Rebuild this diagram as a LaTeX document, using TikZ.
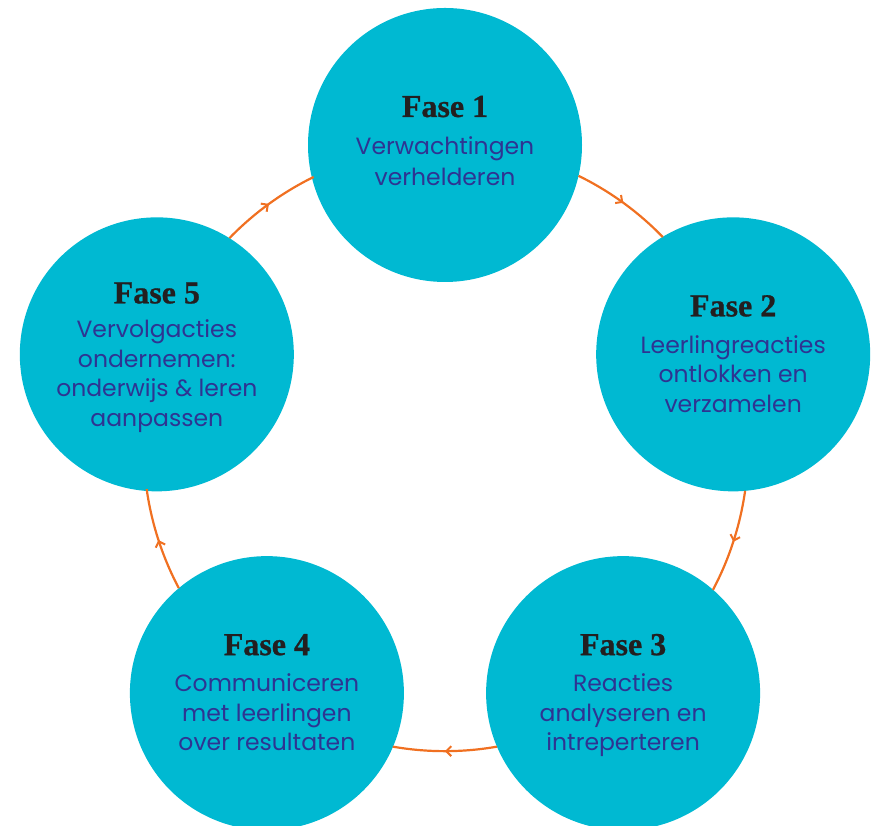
\documentclass[tikz,border=0pt]{standalone}
\usepackage{fontspec}
\setmainfont{Poppins}
\newfontfamily\titlefont[BoldFeatures={FakeBold=0.8}]{Liberation Serif}
\usetikzlibrary{arrows.meta,decorations.markings}
\definecolor{cyanfill}{RGB}{0,185,210}
\definecolor{bodyblue}{RGB}{46,52,146}
\definecolor{titleblack}{RGB}{35,31,32}
\definecolor{flowor}{RGB}{240,112,33}
\tikzset{
  phase/.style={circle,fill=cyanfill,draw=none,minimum size=274pt,inner sep=0pt,outer sep=0pt},
  ptitle/.style={anchor=base,font=\titlefont\bfseries\fontsize{32}{32}\selectfont,text=titleblack,inner sep=0pt},
  pbody/.style={anchor=base,align=center,font=\fontsize{23.5}{29.5}\selectfont,text=bodyblue,inner sep=0pt},
  flow/.style={draw=flowor,line width=2.2pt,postaction={decorate},
    decoration={markings,mark=at position 0.5 with {\arrow[flowor,line width=2pt]{Straight Barb[length=5pt,width=10pt]}}}}
}
\begin{document}
\begin{tikzpicture}[x=1pt,y=1pt]
\useasboundingbox (0,0) rectangle (876,826);
\coordinate (O) at (445,378);
\node[phase] (f1) at ([shift={(90:303)}]O) {};
\node[phase] (f2) at ([shift={(18:303)}]O) {};
\node[phase] (f3) at ([shift={(-54:303)}]O) {};
\node[phase] (f4) at ([shift={(-126:303)}]O) {};
\node[phase] (f5) at ([shift={(162:303)}]O) {};
\draw[flow] (f1.-13.05) arc[start angle=63.9, delta angle=-19.8, radius=303];
\draw[flow] (f2.-85.05) arc[start angle=-8.1, delta angle=-19.8, radius=303];
\draw[flow] (f3.-157.05) arc[start angle=-80.1, delta angle=-19.8, radius=303];
\draw[flow] (f4.130.95) arc[start angle=-152.1, delta angle=-19.8, radius=303];
\draw[flow] (f5.58.95) arc[start angle=135.9, delta angle=-19.8, radius=303];
\node[ptitle] (t1) at ([yshift=28]f1) {Fase 1};
\node[pbody,font=\fontsize{23.5}{31}\selectfont] (b1) at ([yshift=-41]f1) {Verwachtingen\\verhelderen};
\node[ptitle] (t2) at ([yshift=38]f2) {Fase 2};
\node[pbody] (b2) at ([yshift=-58]f2) {Leerlingreacties\\ontlokken en\\verzamelen};
\node[ptitle] (t3) at ([yshift=38]f3) {Fase 3};
\node[pbody] (b3) at ([yshift=-57.5]f3) {Reacties\\analyseren en\\intreperteren};
\node[ptitle] (t4) at ([yshift=38]f4) {Fase 4};
\node[pbody] (b4) at ([yshift=-57.5]f4) {Communiceren\\met leerlingen\\over resultaten};
\node[ptitle] (t5) at ([yshift=51]f5) {Fase 5};
\node[pbody] (b5) at ([yshift=-72]f5) {Vervolgacties\\ondernemen:\\onderwijs \& leren\\aanpassen};
\end{tikzpicture}
\end{document}
